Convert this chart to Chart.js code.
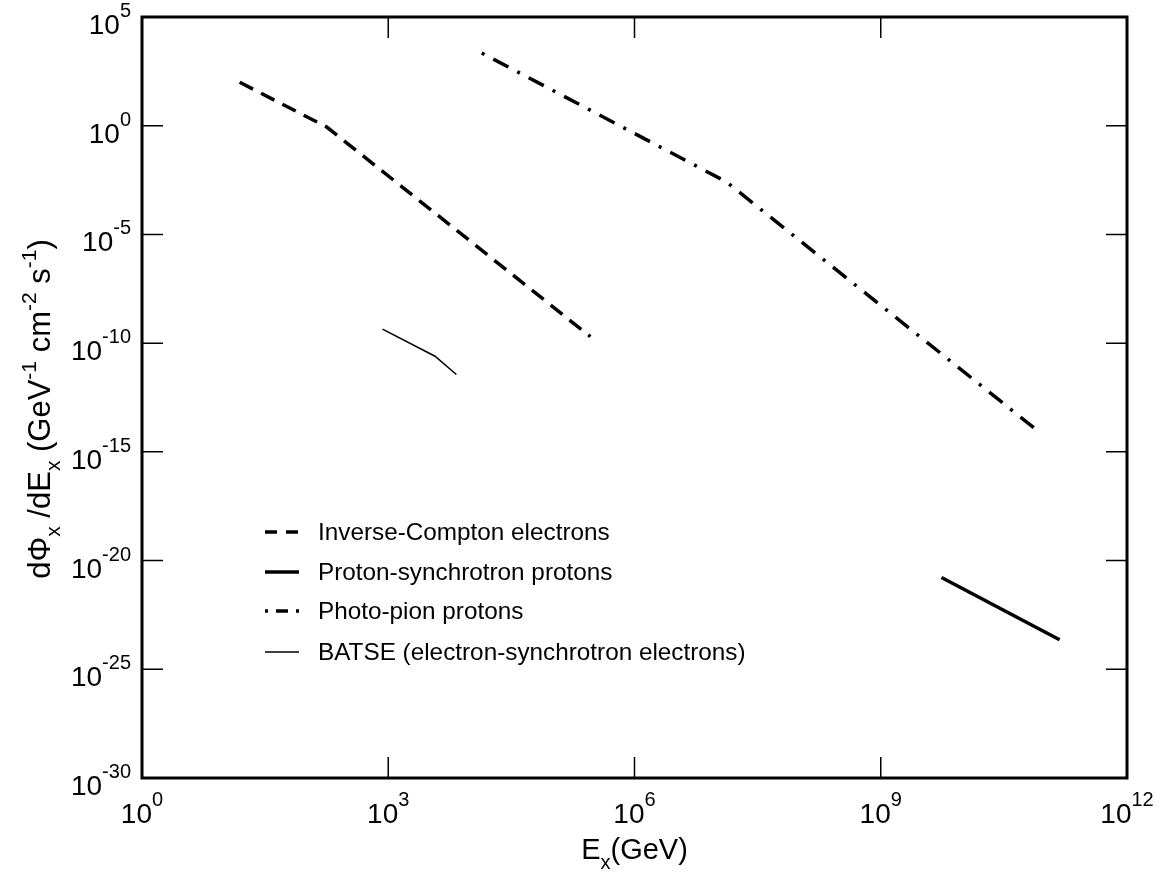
<!DOCTYPE html>
<html>
<head>
<meta charset="utf-8">
<script src="https://cdn.jsdelivr.net/npm/chart.js@4/dist/chart.umd.min.js"></script>
<style>
  html, body { margin: 0; padding: 0; background: #fff; }
  #wrap { width: 1167px; height: 877px; }
</style>
</head>
<body>
<div id="wrap"><canvas id="c" width="1167" height="877"></canvas></div>
<script>
// ---- data ----
const icEnergy   = [15.5, 178, 2.9e5];          // Inverse-Compton electrons
const icFlux     = [1.0e2, 0.87, 2.0e-10];
const psEnergy   = [5.5e9, 1.51e11];            // Proton-synchrotron protons
const psFlux     = [1.66e-21, 2.3e-24];
const ppEnergy   = [1.38e4, 1.32e7, 8.9e10];    // Photo-pion protons
const ppFlux     = [2.2e3, 2.6e-3, 7.1e-15];
const batEnergy  = [851, 3715, 6760];           // BATSE (electron-synchrotron electrons)
const batFlux    = [4.4e-10, 2.5e-11, 3.6e-12];

const seriesNames = [
  'Inverse-Compton electrons',
  'Proton-synchrotron protons',
  'Photo-pion protons',
  'BATSE (electron-synchrotron electrons)'
];
const xTickExponents = [0, 3, 6, 9, 12];
const yTickExponents = [5, 0, -5, -10, -15, -20, -25, -30];

const FONT = '"Liberation Sans", Arial, Helvetica, sans-serif';

function pts(xs, ys) { return xs.map((x, i) => ({ x: x, y: ys[i] })); }

const datasets = [
  { label: seriesNames[0], data: pts(icEnergy, icFlux), borderColor: '#000', borderWidth: 3.5, borderDash: [15, 9], borderCapStyle: 'butt' },
  { label: seriesNames[1], data: pts(psEnergy, psFlux), borderColor: '#000', borderWidth: 3.5, borderDash: [] },
  { label: seriesNames[2], data: pts(ppEnergy, ppFlux), borderColor: '#000', borderWidth: 3.5, borderDash: [17, 10, 3, 10], borderDashOffset: 27, borderCapStyle: 'butt' },
  { label: seriesNames[3], data: pts(batEnergy, batFlux), borderColor: '#000', borderWidth: 1.5, borderDash: [] }
];
datasets.forEach(d => { d.pointRadius = 0; d.tension = 0; d.fill = false; d.showLine = true; });

function drawPieces(ctx, pieces, x, y, sizes) {
  let cx = x;
  pieces.forEach(p => {
    const size = p.s === 'n' ? sizes.n : sizes.s;
    ctx.font = size + 'px ' + FONT;
    const dy = p.s === 'sup' ? -sizes.supRaise : (p.s === 'sub' ? sizes.subDrop : 0);
    ctx.fillText(p.t, cx, y + dy);
    cx += ctx.measureText(p.t).width;
  });
  return cx - x;
}
function measurePieces(ctx, pieces, sizes) {
  let w = 0;
  pieces.forEach(p => {
    ctx.font = (p.s === 'n' ? sizes.n : sizes.s) + 'px ' + FONT;
    w += ctx.measureText(p.t).width;
  });
  return w;
}

const tickSizes = { n: 28, s: 20, supRaise: 17, subDrop: 0 };

const framePlugin = {
  id: 'frame',
  afterDraw(chart) {
    const ctx = chart.ctx;
    const a = chart.chartArea;
    const xs = chart.scales.x, ys = chart.scales.y;
    ctx.save();
    ctx.fillStyle = '#000';
    ctx.strokeStyle = '#000';
    ctx.textBaseline = 'alphabetic';
    ctx.textAlign = 'left';

    // ticks (inward on all sides)
    ctx.lineWidth = 1.5;
    const tl = 21;
    xTickExponents.forEach(e => {
      const px = xs.getPixelForValue(Math.pow(10, e));
      ctx.beginPath();
      ctx.moveTo(px, a.bottom); ctx.lineTo(px, a.bottom - tl);
      ctx.moveTo(px, a.top); ctx.lineTo(px, a.top + tl);
      ctx.stroke();
    });
    yTickExponents.forEach(e => {
      const py = ys.getPixelForValue(Math.pow(10, e));
      ctx.beginPath();
      ctx.moveTo(a.left, py); ctx.lineTo(a.left + tl, py);
      ctx.moveTo(a.right, py); ctx.lineTo(a.right - tl, py);
      ctx.stroke();
    });

    // frame
    ctx.lineWidth = 3;
    ctx.strokeRect(a.left, a.top, a.right - a.left, a.bottom - a.top);

    // x tick labels
    xTickExponents.forEach(e => {
      const px = xs.getPixelForValue(Math.pow(10, e));
      const pcs = [{ t: '10', s: 'n' }, { t: String(e), s: 'sup' }];
      const w = measurePieces(ctx, pcs, tickSizes);
      drawPieces(ctx, pcs, px - w / 2, a.bottom + 45, tickSizes);
    });
    // y tick labels
    yTickExponents.forEach(e => {
      const py = ys.getPixelForValue(Math.pow(10, e));
      const pcs = [{ t: '10', s: 'n' }, { t: String(e), s: 'sup' }];
      const w = measurePieces(ctx, pcs, tickSizes);
      drawPieces(ctx, pcs, 131 - w, py + 17, tickSizes);
    });

    // x title
    const xSizes = { n: 29, s: 20, supRaise: 13, subDrop: 10 };
    const xt = [{ t: 'E', s: 'n' }, { t: 'x', s: 'sub' }, { t: '(GeV)', s: 'n' }];
    const xw = measurePieces(ctx, xt, xSizes);
    drawPieces(ctx, xt, (a.left + a.right) / 2 - xw / 2, 859, xSizes);

    // y title (rotated)
    const ySizes = { n: 31, s: 21, supRaise: 14, subDrop: 10 };
    const yt = [
      { t: 'd\u03A6', s: 'n' }, { t: 'x', s: 'sub' }, { t: ' /dE', s: 'n' }, { t: 'x', s: 'sub' },
      { t: ' (GeV', s: 'n' }, { t: '-1', s: 'sup' }, { t: ' cm', s: 'n' }, { t: '-2', s: 'sup' },
      { t: ' s', s: 'n' }, { t: '-1', s: 'sup' }, { t: ')', s: 'n' }
    ];
    const yw = measurePieces(ctx, yt, ySizes);
    ctx.save();
    ctx.translate(50, 409);
    ctx.rotate(-Math.PI / 2);
    drawPieces(ctx, yt, -yw / 2, 0, ySizes);
    ctx.restore();

    // legend
    const lx0 = 265, lx1 = 299, tx = 318;
    const rows = [532, 572, 611, 652];
    chart.data.datasets.forEach((ds, i) => {
      const y = rows[i];
      ctx.save();
      ctx.lineWidth = ds.borderWidth;
      ctx.setLineDash(i === 0 ? [12, 9] : (i === 2 ? [3, 8, 12, 8, 3] : []));
      ctx.lineCap = 'butt';
      ctx.beginPath();
      ctx.moveTo(lx0, y); ctx.lineTo(lx1, y);
      ctx.stroke();
      ctx.restore();
      ctx.font = '24.3px ' + FONT;
      ctx.textBaseline = 'middle';
      ctx.fillText(ds.label, tx, y + 1);
    });
    ctx.restore();
  }
};

new Chart(document.getElementById('c'), {
  type: 'line',
  data: { datasets: datasets },
  options: {
    responsive: false,
    animation: false,
    devicePixelRatio: 1,
    layout: { padding: { left: 142, top: 17, right: 40, bottom: 99 } },
    plugins: { legend: { display: false }, tooltip: { enabled: false } },
    scales: {
      x: { type: 'logarithmic', min: 1, max: 1e12, display: false,
           afterBuildTicks: s => { s.ticks = xTickExponents.map(e => ({ value: Math.pow(10, e) })); } },
      y: { type: 'logarithmic', min: 1e-30, max: 1e5, display: false,
           afterBuildTicks: s => { s.ticks = yTickExponents.map(e => ({ value: Math.pow(10, e) })); } }
    }
  },
  plugins: [framePlugin]
});
</script>
</body>
</html>
